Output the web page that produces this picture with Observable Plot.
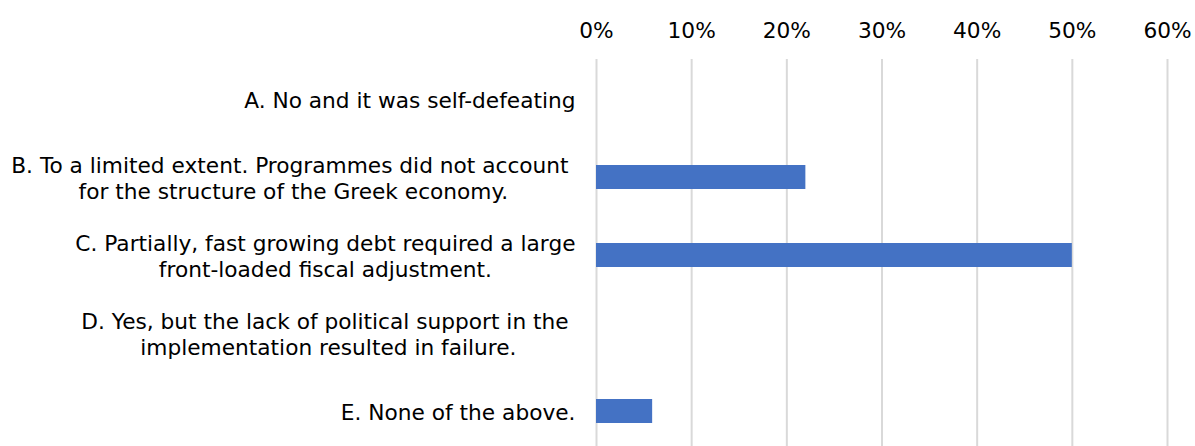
<!DOCTYPE html>
<html>
<head>
<meta charset="utf-8">
<script src="https://cdn.jsdelivr.net/npm/d3@7"></script>
<script src="https://cdn.jsdelivr.net/npm/@observablehq/plot@0.6"></script>
<style>
  html, body { margin: 0; padding: 0; background: #fff; overflow: hidden; }
  svg { display: block; }
</style>
</head>
<body>
<div id="chart"></div>
<script>
const categories = ["A", "B", "C", "D", "E"];
const labels = [
  ["A. No and it was self-defeating"],
  ["B. To a limited extent. Programmes did not account\u00A0", "for the structure of the Greek economy."],
  ["C. Partially, fast growing debt required a large", "front-loaded fiscal adjustment."],
  ["D. Yes, but the lack of political support in the\u00A0", "implementation resulted in failure."],
  ["E. None of the above."]
];
const values = [0, 0.22, 0.50, 0, 0.059];
const xTicks = [0, 0.1, 0.2, 0.3, 0.4, 0.5, 0.6];

const FONT_SIZE = 21.7;
const FONT_FAMILY = "DejaVu Sans, Verdana, sans-serif";
const ctx = document.createElement("canvas").getContext("2d");
ctx.font = `${FONT_SIZE}px DejaVu Sans`;
const blockWidth = lines => Math.max(...lines.map(l => ctx.measureText(l).width));

const data = categories.map((c, i) => ({category: c, value: values[i], label: labels[i].join("\n")}));

const labelMarks = data.map((d, i) =>
  Plot.text([d], {
    x: () => 0,
    y: "category",
    text: "label",
    textAnchor: "middle",
    lineHeight: 1.2,
    fill: "#000",
    fontSize: FONT_SIZE,
    dx: -(21 + blockWidth(labels[i]) / 2)
  })
);

const chart = Plot.plot({
  width: 1195,
  height: 446,
  marginTop: 59,
  marginBottom: -5,
  marginLeft: 596,
  marginRight: 28,
  style: {fontFamily: FONT_FAMILY, fontSize: FONT_SIZE + "px", color: "#000", background: "#fff"},
  x: {domain: [0, 0.6], axis: "top", ticks: xTicks, tickFormat: d3.format(".0%"), tickSize: 0, tickPadding: 22, label: null},
  y: {domain: categories, axis: null, paddingInner: 0.694, paddingOuter: 0.347},
  marks: [
    Plot.ruleX(xTicks, {stroke: "#d9d9d9", strokeWidth: 2}),
    Plot.barX(data, {x: "value", y: "category", fill: "#4472c4"}),
    ...labelMarks
  ]
});
document.getElementById("chart").appendChild(chart);
</script>
</body>
</html>
